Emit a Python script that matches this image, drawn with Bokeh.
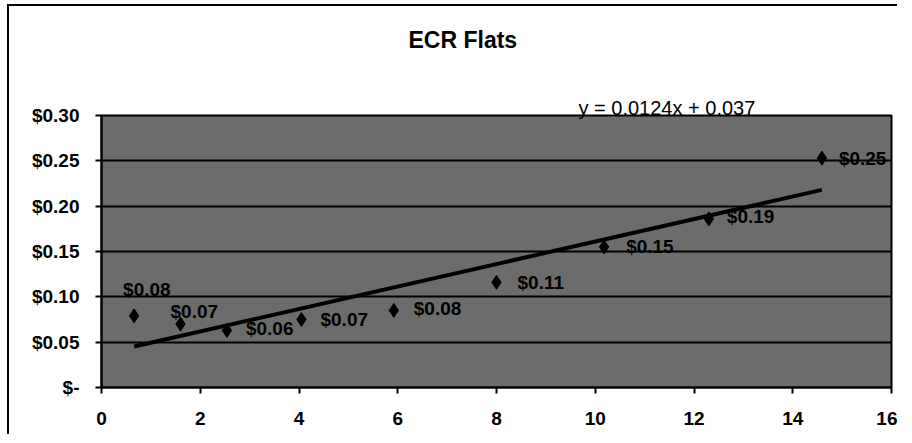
from bokeh.plotting import figure
from bokeh.models import Range1d, FixedTicker, ColumnDataSource, Title
from bokeh.embed import file_html
from bokeh.resources import INLINE
from bokeh.core.properties import value

# ---- data ----
title_text = "ECR Flats"
x_vals = [0.66, 1.60, 2.54, 4.05, 5.92, 8.00, 10.18, 12.30, 14.59]
y_vals = [0.079, 0.070, 0.063, 0.075, 0.085, 0.116, 0.155, 0.186, 0.253]
point_labels = ["$0.08", "$0.07", "$0.06", "$0.07", "$0.08", "$0.11", "$0.15", "$0.19", "$0.25"]
trend_slope = 0.0124
trend_intercept = 0.037
trend_text = "y = 0.0124x + 0.037"
x_ticks = [0, 2, 4, 6, 8, 10, 12, 14, 16]
y_ticks = [0.0, 0.05, 0.10, 0.15, 0.20, 0.25, 0.30]
y_tick_labels = ["$-", "$0.05", "$0.10", "$0.15", "$0.20", "$0.25", "$0.30"]

# ---- layout / style (label offsets in screen pixels) ----
label_dx = [-11, -10, 19, 19, 20, 21, 22, 18, 17]
label_dy = [-26, -13, -2, 0, -2, 0, 0, -2, 0]
FONT = "Liberation Sans"

p = figure(width=890, height=430, output_backend="svg", toolbar_location=None,
           title=None, x_range=Range1d(0, 16), y_range=Range1d(0, 0.30),
           min_border_left=92, min_border_right=8, min_border_top=109,
           min_border_bottom=49)

p.background_fill_color = "#6c6c6c"
p.border_fill_color = "white"
p.outline_line_color = "black"
p.outline_line_width = 2

# axes
p.xaxis.ticker = FixedTicker(ticks=x_ticks)
p.yaxis.ticker = FixedTicker(ticks=y_ticks)
p.yaxis.major_label_overrides = {t: l for t, l in zip(y_ticks, y_tick_labels)}
for ax in (p.xaxis, p.yaxis):
    ax.axis_line_color = "black"
    ax.axis_line_width = 2
    ax.major_tick_line_color = "black"
    ax.major_tick_line_width = 2
    ax.major_tick_out = 6
    ax.major_tick_in = 0
    ax.minor_tick_line_color = None
    ax.major_label_text_font = FONT
    ax.major_label_text_font_style = "bold"
    ax.major_label_text_font_size = "19px"
    ax.major_label_text_color = "black"
p.yaxis.major_label_standoff = 16
p.xaxis.major_label_standoff = 18

p.xgrid.grid_line_color = None
p.ygrid.grid_line_color = "black"
p.ygrid.grid_line_width = 2

# trend line from the fitted equation
tx = [min(x_vals), max(x_vals)]
ty = [trend_slope * v + trend_intercept for v in tx]
p.line(tx, ty, line_color="black", line_width=4)

src = ColumnDataSource(dict(x=x_vals, y=y_vals, lab=point_labels, dx=label_dx, dy=label_dy))
p.scatter("x", "y", source=src, marker="diamond", size=14, fill_color="black", line_color="black")
p.text("x", "y", text="lab", source=src, x_offset="dx", y_offset="dy",
       text_font=value(FONT), text_font_style="bold", text_font_size="19px",
       text_align="left", text_baseline="middle", text_color="black")

# equation (closest to frame), a spacer, then chart title above it
p.add_layout(Title(text=trend_text, align="left", offset=477, standoff=-7,
                   vertical_align="bottom",
                   text_font=FONT, text_font_style="normal", text_font_size="20px",
                   text_color="black"), "above")
p.add_layout(Title(text=" ", standoff=0, text_font_size="19px"), "above")
p.add_layout(Title(text=title_text, align="left", offset=307, standoff=41,
                   vertical_align="top",
                   text_font=FONT, text_font_style="bold", text_font_size="23px",
                   text_color="black"), "above")

p.styles = {"border-left": "2px solid black", "border-top": "2px solid black",
            "margin-left": "7px", "margin-top": "4px"}

open("out.html", "w").write(file_html(p, INLINE))
